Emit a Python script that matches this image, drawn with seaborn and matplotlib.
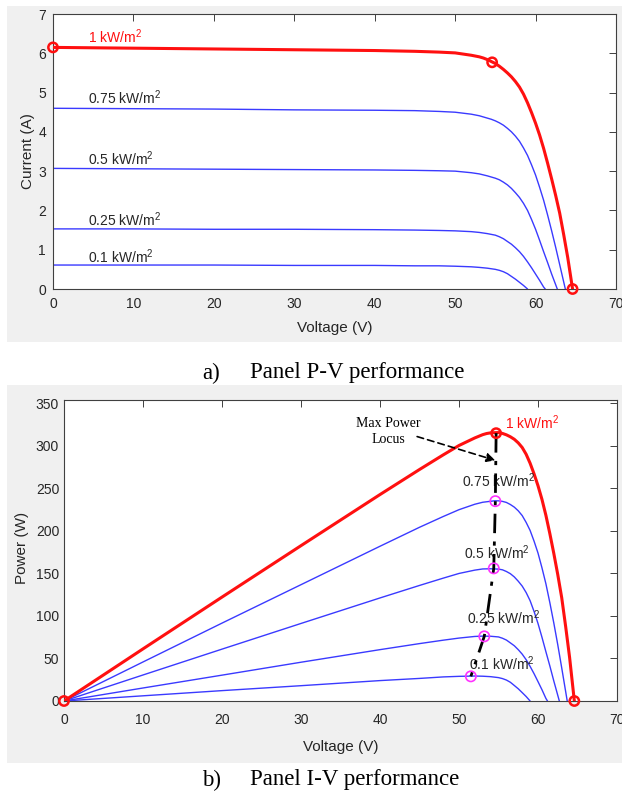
import numpy as np
import pandas as pd
import matplotlib
matplotlib.use("Agg")
import matplotlib.pyplot as plt
from matplotlib.patches import Rectangle
import seaborn as sns

# ---------------- data ----------------
labels = ["1 kW/m$^2$", "0.75 kW/m$^2$", "0.5 kW/m$^2$", "0.25 kW/m$^2$", "0.1 kW/m$^2$"]

v_1000 = [0, 10, 20, 30, 40, 45, 48, 50, 52, 53, 53.5, 54, 54.5, 55, 55.5, 56, 56.5, 57, 57.5,
          58, 58.5, 59, 59.5, 60, 60.5, 61, 61.5, 62, 62.5, 63, 63.5, 64, 64.6]
i_1000 = [6.15, 6.13, 6.11, 6.09, 6.07, 6.05, 6.03, 6.01, 5.95, 5.91, 5.88, 5.84, 5.79, 5.74,
          5.67, 5.59, 5.50, 5.40, 5.28, 5.14, 4.96, 4.74, 4.49, 4.22, 3.92, 3.58, 3.20, 2.80,
          2.38, 1.93, 1.38, 0.80, 0.0]

v_750 = [0, 10, 20, 30, 40, 45, 48, 50, 52, 53, 54, 54.5, 55, 55.5, 56, 56.5, 57, 57.5, 58,
         58.5, 59, 59.5, 60, 60.5, 61, 61.5, 62, 62.5, 63, 63.7]
i_750 = [4.60, 4.59, 4.58, 4.56, 4.55, 4.54, 4.52, 4.50, 4.45, 4.41, 4.35, 4.32, 4.28, 4.23,
         4.17, 4.09, 4.00, 3.89, 3.76, 3.59, 3.40, 3.16, 2.90, 2.59, 2.26, 1.88, 1.48, 1.06,
         0.62, 0.0]

v_500 = [0, 10, 20, 30, 40, 45, 48, 50, 52, 53, 54, 55, 55.5, 56, 56.5, 57, 57.5, 58, 58.5,
         59, 59.5, 60, 60.5, 61, 61.5, 62, 62.7]
i_500 = [3.07, 3.06, 3.05, 3.04, 3.03, 3.02, 3.01, 3.00, 2.96, 2.93, 2.88, 2.82, 2.78, 2.72,
         2.65, 2.56, 2.45, 2.33, 2.18, 2.00, 1.77, 1.52, 1.24, 0.95, 0.67, 0.38, 0.0]

v_250 = [0, 10, 20, 30, 40, 45, 48, 50, 52, 53, 54, 55, 55.5, 56, 56.5, 57, 57.5, 58, 58.5,
         59, 59.5, 60, 60.5, 61, 61.2]
i_250 = [1.53, 1.53, 1.52, 1.52, 1.51, 1.50, 1.49, 1.48, 1.46, 1.44, 1.41, 1.37, 1.33, 1.28,
         1.21, 1.14, 1.05, 0.95, 0.83, 0.69, 0.54, 0.38, 0.22, 0.05, 0.0]

v_100 = [0, 10, 20, 30, 40, 45, 48, 50, 52, 53, 54, 55, 55.5, 56, 56.5, 57, 57.5, 58, 58.5, 59.0]
i_100 = [0.61, 0.61, 0.61, 0.60, 0.60, 0.59, 0.59, 0.58, 0.565, 0.55, 0.53, 0.50, 0.475, 0.44,
         0.39, 0.32, 0.25, 0.17, 0.09, 0.0]

# key points of the 1 kW/m2 I-V curve (Isc, MPP, Voc)
iv_key_v = [0, 54.6, 64.6]
iv_key_i = [6.15, 5.77, 0.0]

# maximum power points (1, 0.75, 0.5, 0.25, 0.1 kW/m2)
mpp_v = [54.7, 54.6, 54.4, 53.2, 51.5]
mpp_p = [315, 235, 156, 76, 29]

# red key points of the 1 kW/m2 P-V curve
pv_key_v = [0, 54.7, 64.6]
pv_key_p = [0, 315, 0]

# label anchors
iv_label_v = [4.3, 4.3, 4.3, 4.3, 4.3]
iv_label_i = [6.42, 4.86, 3.31, 1.76, 0.82]
pv_label_v = [55.8, 50.4, 50.6, 51.0, 51.3]
pv_label_p = [327, 259, 175, 98, 44]

locus_text_xy = (41.1, 317)
arrow_from = (44.7, 311)
arrow_to = (54.6, 283)

curves_v = [v_1000, v_750, v_500, v_250, v_100]
curves_i = [i_1000, i_750, i_500, i_250, i_100]

# ---------------- style ----------------
sns.set_style("white")
plt.rcParams["font.family"] = ["Liberation Sans", "DejaVu Sans"]
plt.rcParams["mathtext.default"] = "regular"

RED = "#ff1010"
BLUE = "#3a3aff"
AX = "#404040"
TXT = "#262626"
GRAY = "#f0f0f0"

W, H = 622, 793
fig = plt.figure(figsize=(W / 100, H / 100), dpi=100)
fig.patch.set_facecolor("white")

# gray MATLAB figure backgrounds
fig.patches.append(Rectangle((7 / W, 1 - 342 / H), 615 / W, 336 / H, transform=fig.transFigure,
                             facecolor=GRAY, edgecolor="none", zorder=-10))
fig.patches.append(Rectangle((7 / W, 1 - 763 / H), 615 / W, 378 / H, transform=fig.transFigure,
                             facecolor=GRAY, edgecolor="none", zorder=-10))

ax1 = fig.add_axes([53 / W, 1 - 289 / H, (616 - 53) / W, (289 - 14) / H])
ax2 = fig.add_axes([64 / W, 1 - 701 / H, (617 - 64) / W, (701 - 400) / H])


def style_axes(ax, xpad, ypad):
    ax.set_facecolor("white")
    for s in ax.spines.values():
        s.set_color(AX)
        s.set_linewidth(0.8)
        s.set_visible(True)
    ax.tick_params(direction="in", top=True, right=True, length=5, width=0.7,
                   colors=AX, labelcolor=TXT, labelsize=10)
    ax.tick_params(axis="x", pad=xpad)
    ax.tick_params(axis="y", pad=ypad)


# ---------------- panel a: I-V ----------------
for k, (v, i) in enumerate(zip(curves_v, curves_i)):
    df = pd.DataFrame({"V": v, "I": i})
    sns.lineplot(data=df, x="V", y="I", ax=ax1, estimator=None, sort=False,
                 color=RED if k == 0 else BLUE, linewidth=2.2 if k == 0 else 1.0,
                 zorder=3 if k == 0 else 2)
    ax1.text(iv_label_v[k], iv_label_i[k], labels[k], fontsize=10, ha="left", va="center",
             color=RED if k == 0 else TXT)

sns.scatterplot(x=iv_key_v, y=iv_key_i, ax=ax1, marker="o", s=45, facecolors="none",
                edgecolor=RED, linewidth=1.8, zorder=5, clip_on=False)

ax1.set_xlim(0, 70)
ax1.set_ylim(0, 7)
ax1.set_xticks(range(0, 71, 10))
ax1.set_yticks(range(0, 8))
style_axes(ax1, 6, 5)
ax1.set_xlabel("Voltage (V)", fontsize=11, color=TXT, va="center")
ax1.set_ylabel("Current (A)", fontsize=11, color=TXT, va="center")
ax1.xaxis.set_label_coords(0.5, -0.142)
ax1.yaxis.set_label_coords(-0.044, 0.5)

# ---------------- panel b: P-V ----------------
for k, (v, i) in enumerate(zip(curves_v, curves_i)):
    p = [vv * ii for vv, ii in zip(v, i)]
    df = pd.DataFrame({"V": v, "P": p})
    sns.lineplot(data=df, x="V", y="P", ax=ax2, estimator=None, sort=False,
                 color=RED if k == 0 else BLUE, linewidth=2.2 if k == 0 else 1.0,
                 zorder=3 if k == 0 else 2)
    ax2.text(pv_label_v[k], pv_label_p[k], labels[k], fontsize=10, ha="left", va="center",
             color=RED if k == 0 else TXT, zorder=4)

# maximum power locus
sns.lineplot(x=mpp_v, y=mpp_p, ax=ax2, estimator=None, sort=False, color="black",
             linewidth=2.0, linestyle=(0, (7, 3, 1.5, 3)), zorder=6)

sns.scatterplot(x=mpp_v[1:], y=mpp_p[1:], ax=ax2, marker="o", s=55, facecolors="none",
                edgecolor="#ff33ff", linewidth=1.2, zorder=7, clip_on=False)
sns.scatterplot(x=pv_key_v, y=pv_key_p, ax=ax2, marker="o", s=45, facecolors="none",
                edgecolor=RED, linewidth=1.8, zorder=7, clip_on=False)

ax2.text(locus_text_xy[0], locus_text_xy[1], "Max Power\nLocus", family="Liberation Serif",
         fontsize=10, ha="center", va="center", linespacing=1.35, color="black")
ax2.annotate("", xy=arrow_to, xytext=arrow_from,
             arrowprops=dict(arrowstyle="-|>", linestyle=(0, (4, 2.5)), color="black",
                             lw=1.2, mutation_scale=13, shrinkA=0, shrinkB=0))

ax2.set_xlim(0, 70)
ax2.set_ylim(0, 354)
ax2.set_xticks(range(0, 71, 10))
ax2.set_yticks(range(0, 351, 50))
style_axes(ax2, 9, 3.5)
ax2.set_xlabel("Voltage (V)", fontsize=11, color=TXT, va="center")
ax2.set_ylabel("Power (W)", fontsize=11, color=TXT, va="center")
ax2.xaxis.set_label_coords(0.5, -0.153)
ax2.yaxis.set_label_coords(-0.076, 0.508)

# ---------------- captions ----------------
cap = dict(family="Liberation Serif", fontsize=16.5, color="black", va="center", ha="left")
fig.text(202 / W, 1 - 373 / H, "a)", **cap)
fig.text(250 / W, 1 - 373 / H, "Panel P-V performance", **cap)
fig.text(202 / W, 1 - 780 / H, "b)", **cap)
fig.text(250 / W, 1 - 780 / H, "Panel I-V performance", **cap)

fig.savefig("out.png", dpi=100, facecolor="white")
